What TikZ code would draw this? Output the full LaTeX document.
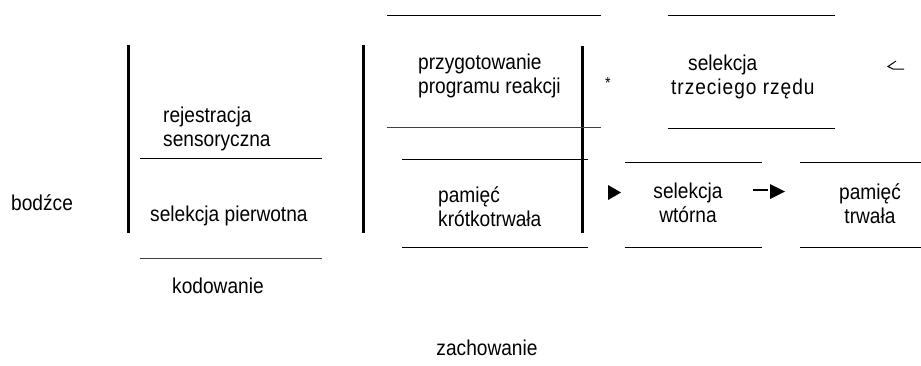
\documentclass[tikz,border=0pt]{standalone}
\usepackage{fontspec}
\setmainfont{Liberation Sans}[FakeStretch=0.89]
\begin{document}
\begin{tikzpicture}[x=1pt,y=-1pt,
  lbl/.style={inner sep=0pt,font=\fontsize{21.5}{24}\selectfont},
  hline/.style={line width=1pt,black},
  vline/.style={line width=3pt,black},
  tip/.style={fill=black}]
\useasboundingbox (0,0) rectangle (921,365);
% vertical bars
\draw[vline] (128,45) -- (128,233);
\draw[vline] (363,45) -- (363,233);
\draw[vline] (582,46) -- (582,233);
% horizontal rules
\draw[hline] (140,158) -- (322,158);
\draw[hline,black!75] (140,258) -- (322,258);
\draw[hline] (387,15) -- (601,15);
\draw[hline,black!75] (387,127) -- (601,127);
\draw[hline] (402,159) -- (588,159);
\draw[hline] (402,247) -- (588,247);
\draw[hline] (668,15) -- (835,15);
\draw[hline] (668,128) -- (835,128);
\draw[hline] (625,162) -- (762,162);
\draw[hline] (625,247) -- (762,247);
\draw[hline] (800,162) -- (921,162);
\draw[hline] (800,247) -- (921,247);
% texts
\node[lbl,anchor=base west] (bodzce) at (11,210) {bodźce};
\node[lbl,anchor=north west,align=left] (rej) at (163,107) {rejestracja\\sensoryczna};
\node[lbl,anchor=base west] (selp) at (150,221) {selekcja pierwotna};
\node[lbl,anchor=base west] (kod) at (172,293) {kodowanie};
\node[lbl,anchor=north west,align=left] (prz) at (418,54) {przygotowanie\\programu reakcji};
\node[lbl,anchor=north west,align=left] (pkr) at (438,186) {pamięć\\krótkotrwała};
\node[lbl,anchor=north west,align=left] (s3) at (671,55) {\hspace{17pt}selekcja\\\addfontfeature{LetterSpace=4.5}trzeciego rzędu};
\node[lbl,anchor=north,align=center] (sw) at (688,183) {selekcja\\wtórna};
\node[lbl,anchor=north,align=center] (pt) at (870,183) {pamięć\\trwała};
\node[lbl,anchor=base] (zach) at (487,355) {zachowanie};
\node[inner sep=0pt,font=\fontsize{16}{16}\selectfont,anchor=base] (star) at (608,88) {*};
% arrow heads and connectors
\coordinate (a1) at (608,185);
\coordinate (a2) at (608,200);
\coordinate (a3) at (621,192.5);
\fill[tip] (a1) -- (a2) -- (a3) -- cycle;
\coordinate (d1) at (753,190);
\coordinate (d2) at (768,190);
\draw[line width=1.5pt] (d1) -- (d2);
\coordinate (b1) at (770,184);
\coordinate (b2) at (770,199);
\coordinate (b3) at (785,191.5);
\fill[tip] (b1) -- (b2) -- (b3) -- cycle;
% small hook mark
\coordinate (h1) at (896,61);
\coordinate (h2) at (888,66.5);
\coordinate (h3) at (893,69);
\coordinate (h4) at (904,69);
\draw[line width=1pt] (h1) -- (h2) -- (h3) -- (h4);
\end{tikzpicture}
\end{document}
